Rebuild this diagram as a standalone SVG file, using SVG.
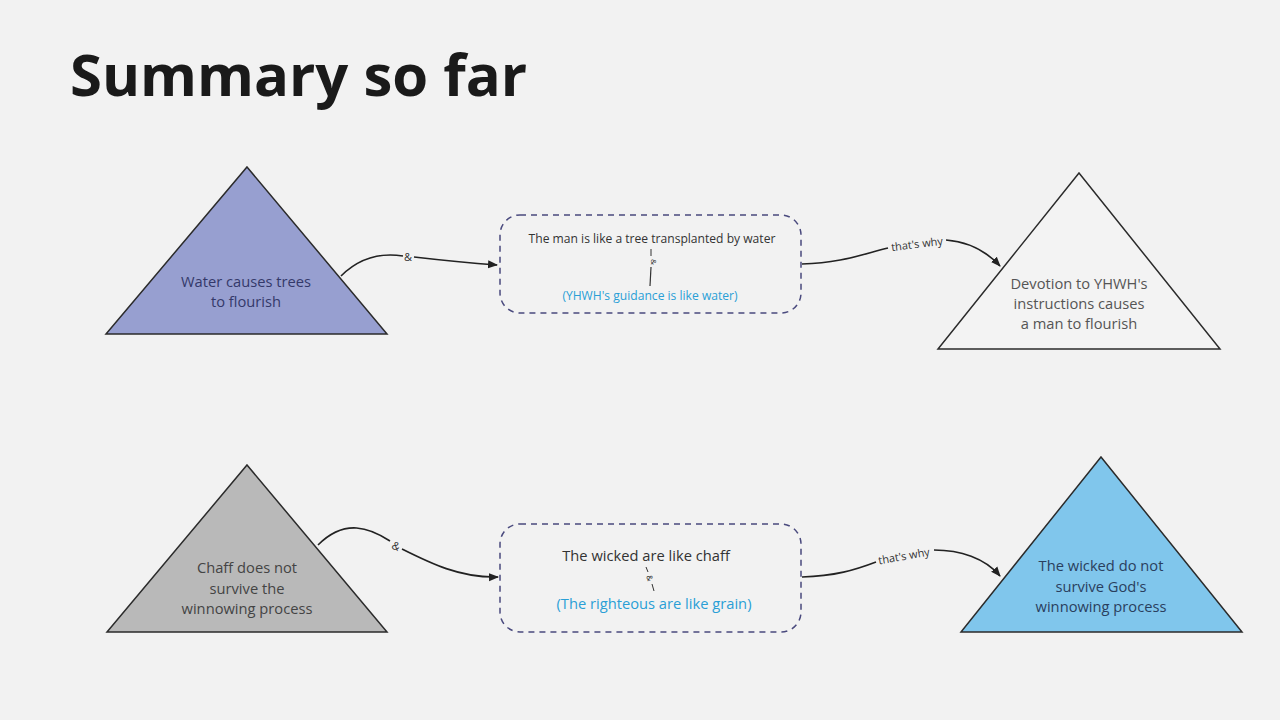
<svg xmlns="http://www.w3.org/2000/svg" width="1280" height="720" viewBox="0 0 1280 720">
<defs>
<marker id="arrow" viewBox="0 0 10 10" refX="9" refY="5" markerWidth="10" markerHeight="10" markerUnits="userSpaceOnUse" orient="auto">
<path d="M0,1 L10,5 L0,9 z" fill="#222"/>
</marker>
<style>
text{font-family:"Open Sans","Noto Sans","Liberation Sans",sans-serif;text-anchor:middle}
.tri{stroke:#2b2b2b;stroke-width:1.5;stroke-linejoin:miter}
.box{fill:none;stroke:#4a4a7e;stroke-width:1.5;stroke-dasharray:6 5}
.conn{fill:none;stroke:#222;stroke-width:1.6}
.lbl{font-size:11px;fill:#333}
.nt{font-size:14.7px}
.blue{fill:#2a9fd6}
</style>
</defs>
<rect width="1280" height="720" fill="#f2f2f2"/>
<text x="70" y="96" style="text-anchor:start;font-size:58px;font-weight:700;fill:#1a1a1a">Summary so far</text>

<g id="connectors">
<path class="conn" d="M341,276 C365,252 390,254 403,256"/>
<path class="conn" d="M414,257 C440,260 470,263 497,265" marker-end="url(#arrow)"/>
<text class="lbl" x="408" y="261">&amp;</text>

<path class="conn" d="M802,264 C840,263 860,255 888,248"/>
<path class="conn" d="M946,240 C970,242 988,253 1000,266" marker-end="url(#arrow)"/>
<text class="lbl" x="917" y="248" transform="rotate(-7 917 244)">that's why</text>

<path class="conn" d="M318,545 C345,518 370,528 390,541"/>
<path class="conn" d="M402,549 C430,563 460,578 498,577" marker-end="url(#arrow)"/>
<text class="lbl" x="396" y="550" transform="rotate(25 396 546)">&amp;</text>

<path class="conn" d="M802,577 C835,576 855,570 876,562"/>
<path class="conn" d="M934,550 C960,550 985,558 1000,576" marker-end="url(#arrow)"/>
<text class="lbl" x="904" y="560" transform="rotate(-10 904 556)">that's why</text>
</g>

<g id="node-water">
<polygon class="tri" points="247,167 387,334 106,334" fill="#979fd0"/>
<text class="nt" x="246" y="287" fill="#34396a">Water causes trees</text>
<text class="nt" x="246" y="307" fill="#34396a">to flourish</text>
</g>

<g id="node-man-tree">
<rect class="box" x="500" y="215" width="301" height="98" rx="20"/>
<text x="652" y="243" style="font-size:12.1px;fill:#333">The man is like a tree transplanted by water</text>
<line x1="651" y1="249" x2="651" y2="256" stroke="#333" stroke-width="1"/>
<line x1="651" y1="267" x2="650" y2="286" stroke="#333" stroke-width="1.2"/>
<text x="651" y="262" transform="rotate(90 651 262)" style="font-size:8px;fill:#333">&amp;</text>
<text class="blue" x="650" y="300" style="font-size:12.1px">(YHWH's guidance is like water)</text>
</g>

<g id="node-devotion">
<polygon class="tri" points="1079,173 1220,349 938,349" fill="#f3f3f3"/>
<text class="nt" x="1079" y="289" fill="#555">Devotion to YHWH's</text>
<text class="nt" x="1079" y="309" fill="#555">instructions causes</text>
<text class="nt" x="1079" y="329" fill="#555">a man to flourish</text>
</g>

<g id="node-chaff">
<polygon class="tri" points="247,465 387,632 107,632" fill="#b9b9b9"/>
<text class="nt" x="247" y="573" fill="#444">Chaff does not</text>
<text class="nt" x="247" y="594" fill="#444">survive the</text>
<text class="nt" x="247" y="614" fill="#444">winnowing process</text>
</g>

<g id="node-wicked-chaff">
<rect class="box" x="500" y="524" width="301" height="108" rx="20"/>
<text class="nt" x="646" y="561" fill="#333">The wicked are like chaff</text>
<line x1="646" y1="567" x2="648" y2="572" stroke="#333" stroke-width="1"/>
<line x1="652" y1="584" x2="654" y2="591" stroke="#333" stroke-width="1"/>
<text x="650" y="581" transform="rotate(75 650 578)" style="font-size:8px;fill:#333">&amp;</text>
<text class="nt blue" x="654" y="609">(The righteous are like grain)</text>
</g>

<g id="node-wicked-winnowing">
<polygon class="tri" points="1101,457 1242,632 961,632" fill="#80c6ec"/>
<text class="nt" x="1101" y="571" fill="#2a3f5e">The wicked do not</text>
<text class="nt" x="1101" y="592" fill="#2a3f5e">survive God's</text>
<text class="nt" x="1101" y="612" fill="#2a3f5e">winnowing process</text>
</g>
</svg>
